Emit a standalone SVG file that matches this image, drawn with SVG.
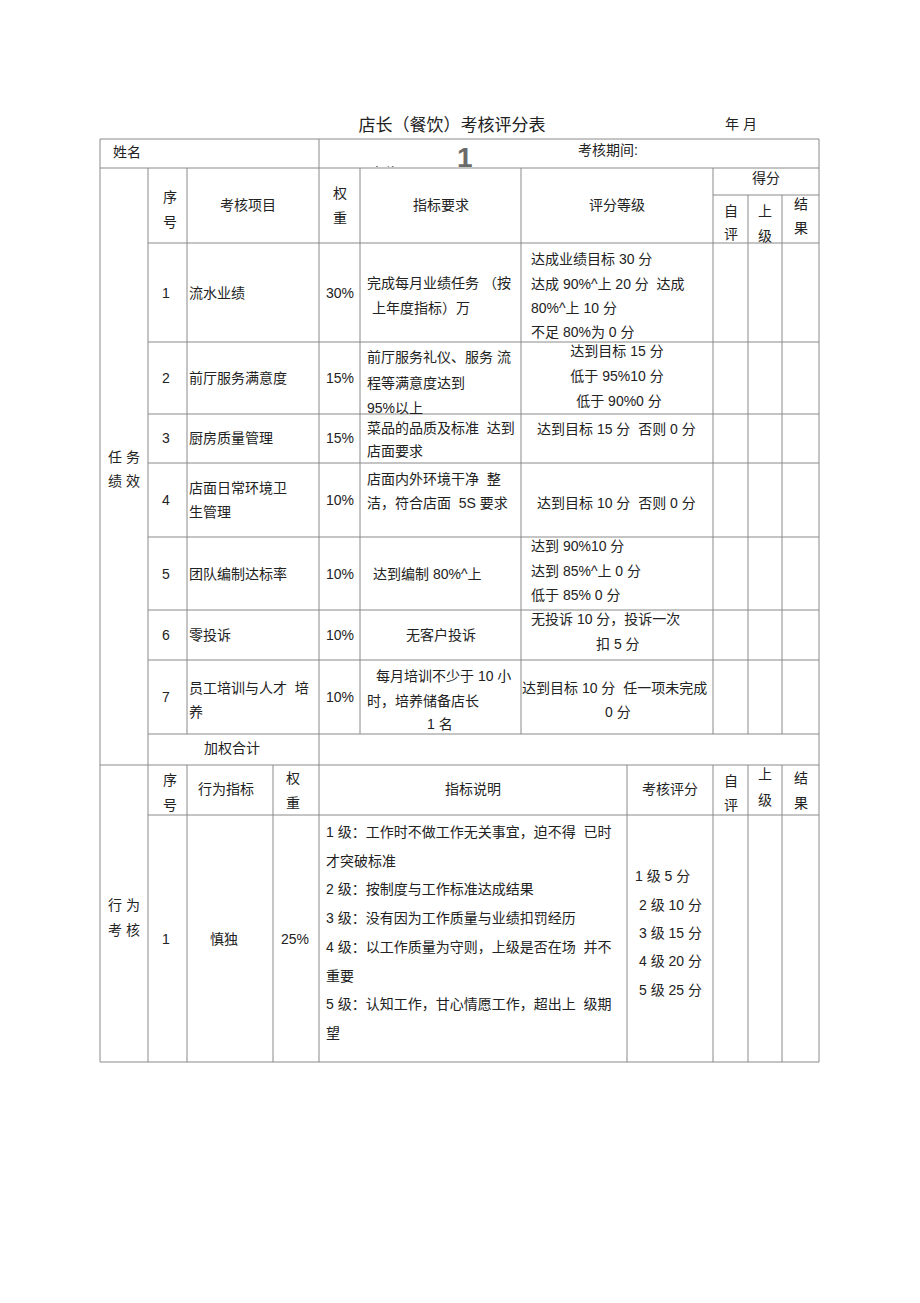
<svg xmlns="http://www.w3.org/2000/svg" width="920" height="1303" viewBox="0 0 920 1303" xml:space="preserve">
<style>
text{font-family:"Liberation Sans","Noto Sans CJK SC",sans-serif;font-size:14px;fill:#222;white-space:pre}
.t{font-size:17px}
.c{text-anchor:middle}
.g line{stroke:#8a8a8a;stroke-width:1}
.big{font-size:28px;fill:#6a6a6a;font-weight:bold}
</style>
<defs>
<clipPath id="clipPos"><rect x="320" y="140" width="200" height="27"/></clipPath>
</defs>
<rect width="920" height="1303" fill="#fff"/>
<g id="title">
<text class="t c" x="452" y="131">店长（餐饮）考核评分表</text>
<text x="725" y="129" font-size="15">年 月</text>
</g>
<g id="grid" class="g">
<line x1="100" y1="139" x2="819" y2="139"/>
<line x1="100" y1="168" x2="819" y2="168"/>
<line x1="713" y1="195" x2="819" y2="195"/>
<line x1="148" y1="243" x2="819" y2="243"/>
<line x1="148" y1="342" x2="819" y2="342"/>
<line x1="148" y1="414" x2="819" y2="414"/>
<line x1="148" y1="463" x2="819" y2="463"/>
<line x1="148" y1="537" x2="819" y2="537"/>
<line x1="148" y1="610" x2="819" y2="610"/>
<line x1="148" y1="660" x2="819" y2="660"/>
<line x1="148" y1="734" x2="819" y2="734"/>
<line x1="100" y1="765" x2="819" y2="765"/>
<line x1="148" y1="815" x2="819" y2="815"/>
<line x1="100" y1="1062" x2="819" y2="1062"/>
<line x1="100" y1="139" x2="100" y2="1062"/>
<line x1="819" y1="139" x2="819" y2="1062"/>
<line x1="319" y1="139" x2="319" y2="1062"/>
<line x1="148" y1="168" x2="148" y2="1062"/>
<line x1="187" y1="168" x2="187" y2="734"/>
<line x1="187" y1="765" x2="187" y2="1062"/>
<line x1="360" y1="168" x2="360" y2="734"/>
<line x1="521" y1="168" x2="521" y2="734"/>
<line x1="713" y1="168" x2="713" y2="734"/>
<line x1="713" y1="765" x2="713" y2="1062"/>
<line x1="748" y1="195" x2="748" y2="734"/>
<line x1="748" y1="765" x2="748" y2="1062"/>
<line x1="782" y1="195" x2="782" y2="734"/>
<line x1="782" y1="765" x2="782" y2="1062"/>
<line x1="273" y1="765" x2="273" y2="1062"/>
<line x1="627" y1="765" x2="627" y2="1062"/>
</g>
<g id="row-name">
<text x="113" y="157">姓名</text>
<text x="578" y="155">考核期间:</text>
<text x="370" y="178" font-size="13" clip-path="url(#clipPos)">岗位</text>
<text class="big" x="457" y="167">1</text>
</g>
<g id="header1">
<text class="c" x="170" y="202">序</text>
<text class="c" x="170" y="227">号</text>
<text class="c" x="248" y="210">考核项目</text>
<text class="c" x="340" y="198">权</text>
<text class="c" x="340" y="223">重</text>
<text class="c" x="441" y="210">指标要求</text>
<text class="c" x="617" y="210">评分等级</text>
<text class="c" x="766" y="183">得分</text>
<text class="c" x="731" y="216">自</text>
<text class="c" x="731" y="239">评</text>
<text class="c" x="765" y="216">上</text>
<text class="c" x="765" y="241">级</text>
<text class="c" x="801" y="209">结</text>
<text class="c" x="801" y="233">果</text>
</g>
<g id="side1">
<text class="c" x="124" y="462">任 务</text>
<text class="c" x="124" y="486">绩 效</text>
</g>
<g id="r1">
<text x="162" y="298">1</text>
<text x="189" y="298">流水业绩</text>
<text x="326" y="298">30%</text>
<text x="367" y="288">完成每月业绩任务 （按</text>
<text x="372" y="313">上年度指标）万</text>
<text x="531" y="264">达成业绩目标 30 分</text>
<text x="531" y="289">达成 90%^上 20 分  达成</text>
<text x="531" y="313">80%^上 10 分</text>
<text x="531" y="337">不足 80%为 0 分</text>
</g>
<g id="r2">
<text x="162" y="383">2</text>
<text x="189" y="383">前厅服务满意度</text>
<text x="326" y="383">15%</text>
<text x="367" y="362">前厅服务礼仪、服务 流</text>
<text x="367" y="388">程等满意度达到</text>
<text x="367" y="413">95%以上</text>
<text class="c" x="617" y="356">达到目标 15 分</text>
<text class="c" x="617" y="381">低于 95%10 分</text>
<text class="c" x="619" y="406">低于 90%0 分</text>
</g>
<g id="r3">
<text x="162" y="443">3</text>
<text x="189" y="443">厨房质量管理</text>
<text x="326" y="443">15%</text>
<text x="367" y="433">菜品的品质及标准  达到</text>
<text x="367" y="456">店面要求</text>
<text x="537" y="434">达到目标 15 分  否则 0 分</text>
</g>
<g id="r4">
<text x="162" y="505">4</text>
<text x="189" y="493">店面日常环境卫</text>
<text x="189" y="517">生管理</text>
<text x="326" y="505">10%</text>
<text x="367" y="484">店面内外环境干净  整</text>
<text x="367" y="508">洁，符合店面  5S 要求</text>
<text x="537" y="508">达到目标 10 分  否则 0 分</text>
</g>
<g id="r5">
<text x="162" y="579">5</text>
<text x="189" y="579">团队编制达标率</text>
<text x="326" y="579">10%</text>
<text x="373" y="579">达到编制 80%^上</text>
<text x="531" y="551">达到 90%10 分</text>
<text x="531" y="576">达到 85%^上 0 分</text>
<text x="531" y="600">低于 85% 0 分</text>
</g>
<g id="r6">
<text x="162" y="640">6</text>
<text x="189" y="640">零投诉</text>
<text x="326" y="640">10%</text>
<text class="c" x="441" y="640">无客户投诉</text>
<text x="531" y="624">无投诉 10 分，投诉一次</text>
<text x="596" y="649">扣 5 分</text>
</g>
<g id="r7">
<text x="162" y="702">7</text>
<text x="189" y="693">员工培训与人才  培</text>
<text x="189" y="717">养</text>
<text x="326" y="702">10%</text>
<text x="376" y="681">每月培训不少于 10 小</text>
<text x="367" y="706">时，培养储备店长</text>
<text x="427" y="729">1 名</text>
<text x="522" y="693">达到目标 10 分  任一项未完成</text>
<text x="605" y="717">0 分</text>
</g>
<g id="total">
<text x="204" y="753">加权合计</text>
</g>
<g id="header2">
<text class="c" x="170" y="785">序</text>
<text class="c" x="170" y="810">号</text>
<text class="c" x="226" y="794">行为指标</text>
<text class="c" x="293" y="783">权</text>
<text class="c" x="293" y="808">重</text>
<text class="c" x="473" y="794">指标说明</text>
<text class="c" x="670" y="794">考核评分</text>
<text class="c" x="731" y="786">自</text>
<text class="c" x="731" y="810">评</text>
<text class="c" x="765" y="779">上</text>
<text class="c" x="765" y="805">级</text>
<text class="c" x="801" y="783">结</text>
<text class="c" x="801" y="808">果</text>
</g>
<g id="side2">
<text class="c" x="124" y="910">行 为</text>
<text class="c" x="124" y="935">考 核</text>
</g>
<g id="b1">
<text x="162" y="944">1</text>
<text class="c" x="224" y="944">慎独</text>
<text x="281" y="944">25%</text>
<text x="326" y="837">1 级：工作时不做工作无关事宜，迫不得  已时</text>
<text x="326" y="866">才突破标准</text>
<text x="326" y="894">2 级：按制度与工作标准达成结果</text>
<text x="326" y="923">3 级：没有因为工作质量与业绩扣罚经历</text>
<text x="326" y="952">4 级：以工作质量为守则，上级是否在场  并不</text>
<text x="326" y="981">重要</text>
<text x="326" y="1009">5 级：认知工作，甘心情愿工作，超出上  级期</text>
<text x="326" y="1038">望</text>
<text x="635" y="881">1 级 5 分</text>
<text x="639" y="910">2 级 10 分</text>
<text x="639" y="938">3 级 15 分</text>
<text x="639" y="966">4 级 20 分</text>
<text x="639" y="995">5 级 25 分</text>
</g>
</svg>
